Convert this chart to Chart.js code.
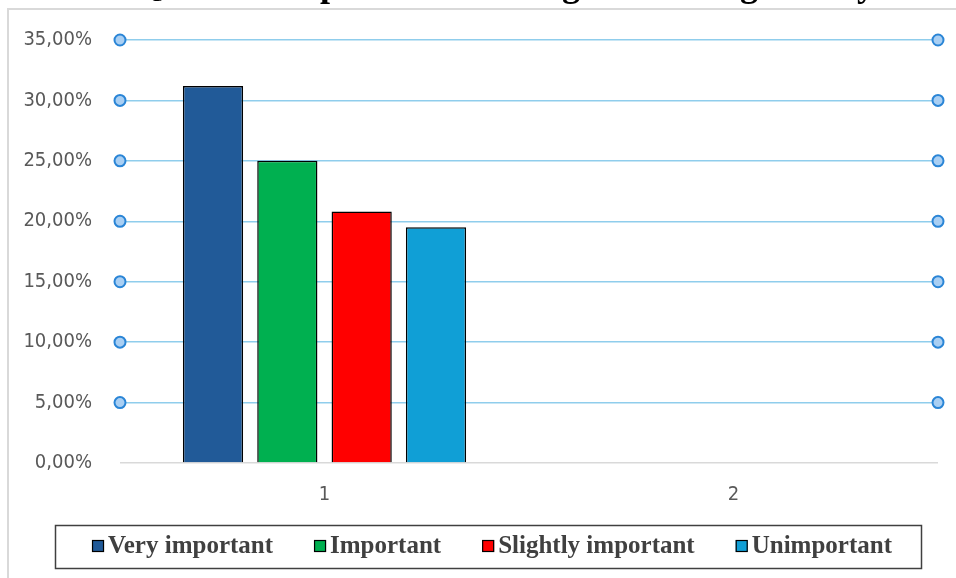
<!DOCTYPE html>
<html>
<head>
<meta charset="utf-8">
<script src="https://cdn.jsdelivr.net/npm/chart.js@4.4.1/dist/chart.umd.min.js"></script>
<style>
  html, body { margin: 0; padding: 0; background: #fff; }
  #wrap { width: 956px; height: 578px; position: relative; }
</style>
</head>
<body>
<div id="wrap"><canvas id="c" width="956" height="578"></canvas></div>
<script>
// ---- data ----
const titleText = 'Q6. How important is testing in teaching history?';
const categories = ['1', '2'];
const seriesNames = ['Very important', 'Important', 'Slightly important', 'Unimportant'];
const veryImportant = [31.2, null];
const important = [25.0, null];
const slightlyImportant = [20.8, null];
const unimportant = [19.5, null];
const yTicks = [0, 5, 10, 15, 20, 25, 30, 35];
const seriesColors = ['#215a98', '#00b050', '#ff0000', '#109fd6'];

const seriesValues = [veryImportant, important, slightlyImportant, unimportant];
const fmt = v => v.toFixed(2).replace('.', ',') + '%';
const tickFont = '"DejaVu Sans Condensed", "Liberation Sans", Arial, sans-serif';

const frameAndTitle = {
  id: 'frameAndTitle',
  beforeDraw(chart) {
    const ctx = chart.ctx;
    ctx.save();
    ctx.strokeStyle = '#d9d9d9';
    ctx.lineWidth = 2;
    ctx.beginPath();
    ctx.moveTo(8, 578); ctx.lineTo(8, 9); ctx.lineTo(956, 9);
    ctx.stroke();
    ctx.fillStyle = '#000';
    ctx.font = 'bold 36px "Liberation Serif", "Times New Roman", serif';
    ctx.textAlign = 'center';
    ctx.textBaseline = 'alphabetic';
    ctx.fillText(titleText, 514, -4);
    ctx.restore();
  }
};

const gridDots = {
  id: 'gridDots',
  afterDraw(chart) {
    const ctx = chart.ctx, y = chart.scales.y, a = chart.chartArea;
    ctx.save();
    y.ticks.forEach(t => {
      if (t.value === 0) return;
      const py = y.getPixelForValue(t.value);
      [a.left, a.right].forEach(px => {
        ctx.beginPath();
        ctx.arc(px, py, 5.5, 0, Math.PI * 2);
        ctx.fillStyle = '#a9cff3';
        ctx.fill();
        ctx.lineWidth = 2;
        ctx.strokeStyle = '#2a85d6';
        ctx.stroke();
      });
    });
    ctx.restore();
  }
};

const boxLegend = {
  id: 'boxLegend',
  afterDraw(chart) {
    const ctx = chart.ctx;
    ctx.save();
    ctx.strokeStyle = '#404040';
    ctx.lineWidth = 1.5;
    ctx.strokeRect(55.5, 525.5, 866, 43);
    ctx.font = 'bold 25px "Liberation Serif", "Times New Roman", serif';
    ctx.textBaseline = 'middle';
    ctx.textAlign = 'left';
    const gap = 41, box = 12, tgap = 4;
    const items = chart.data.datasets.map(d => ({ label: d.label, color: d.backgroundColor, w: box + tgap + ctx.measureText(d.label).width }));
    const total = items.reduce((s, it) => s + it.w, 0) + gap * (items.length - 1);
    let x = 492 - total / 2;
    const cy = 546;
    items.forEach(it => {
      ctx.fillStyle = it.color;
      ctx.fillRect(x, cy - box / 2, box, box);
      ctx.strokeStyle = '#000';
      ctx.lineWidth = 1.2;
      ctx.strokeRect(x + 0.5, cy - box / 2 + 0.5, box - 1, box - 1);
      ctx.fillStyle = '#404040';
      ctx.fillText(it.label, x + box + tgap, cy + 1);
      x += it.w + gap;
    });
    ctx.restore();
  }
};

new Chart(document.getElementById('c'), {
  type: 'bar',
  data: {
    labels: categories,
    datasets: seriesNames.map((n, i) => ({
      label: n,
      data: seriesValues[i],
      backgroundColor: seriesColors[i],
      borderColor: '#000',
      borderWidth: 1.5,
      categoryPercentage: 0.727,
      barPercentage: 0.81
    }))
  },
  options: {
    responsive: false,
    animation: false,
    layout: { padding: { left: 10, right: 18, top: 39, bottom: 65 } },
    plugins: { legend: { display: false }, title: { display: false }, tooltip: { enabled: false } },
    scales: {
      x: {
        grid: { display: false },
        border: { display: false },
        ticks: { color: '#595959', padding: 12, font: { family: tickFont, size: 20 } },
        afterFit(s) { s.height = 50; }
      },
      y: {
        min: 0, max: 35,
        afterBuildTicks(s) { s.ticks = yTicks.map(v => ({ value: v })); },
        border: { display: false },
        grid: {
          drawTicks: false,
          lineWidth: 1.5,
          color: c => (c.tick && c.tick.value === 0) ? '#d9d9d9' : '#8fcdec'
        },
        ticks: {
          color: '#595959', padding: 28,
          font: { family: tickFont, size: 20 },
          callback: v => fmt(v)
        },
        afterFit(s) { s.width = 110; }
      }
    }
  },
  plugins: [frameAndTitle, gridDots, boxLegend]
});
</script>
</body>
</html>
